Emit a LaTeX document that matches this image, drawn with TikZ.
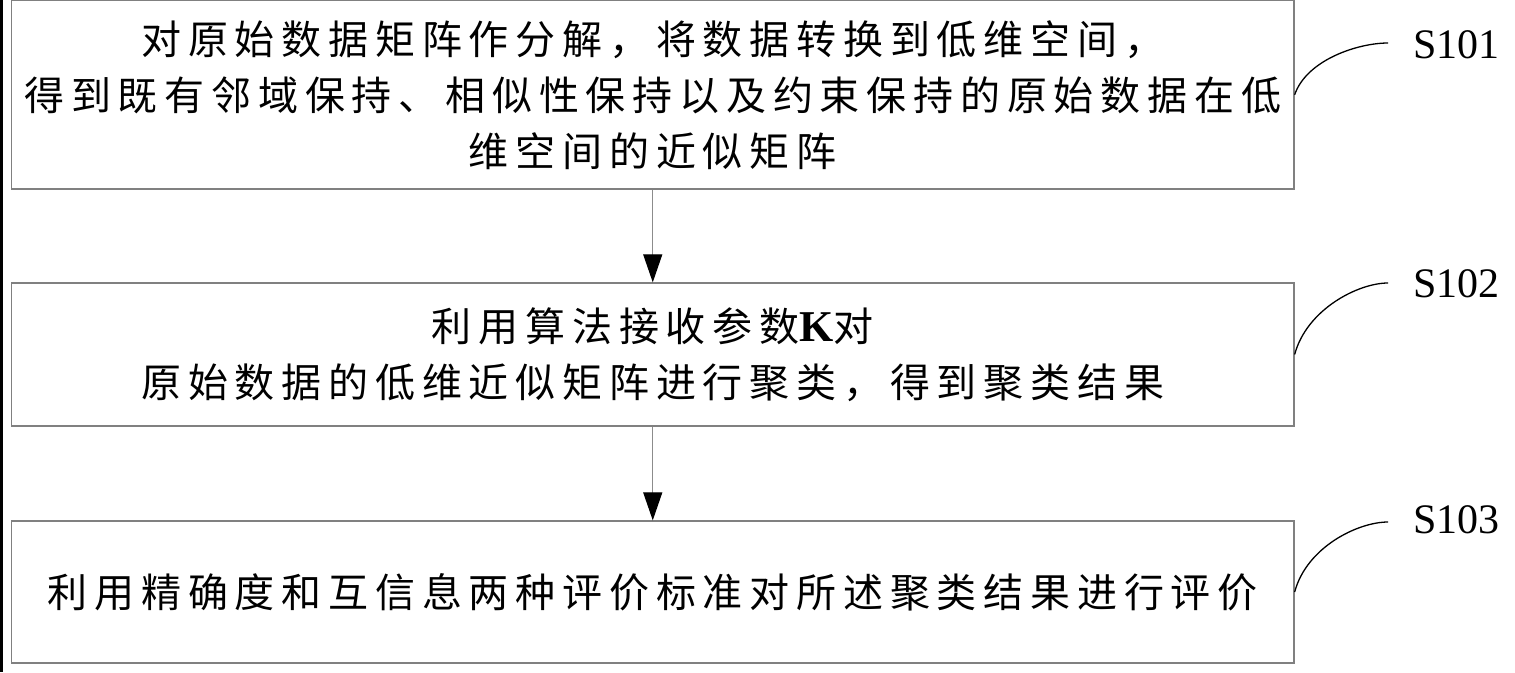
\documentclass[tikz,border=0pt]{standalone}
\usepackage{fontspec}
\usetikzlibrary{arrows.meta}
\newfontfamily\cjk[LetterSpace=17]{Noto Sans CJK SC}
\newfontfamily\lsf{Liberation Serif}
\tikzset{
  stepbox/.style={draw=black!50, line width=1.3pt, minimum width=1282.5pt, inner sep=0pt,
    align=center, font=\cjk\fontsize{40}{56}\selectfont},
  flow/.style={draw=black!45, line width=1.2pt, -{Triangle[length=28pt,width=19pt,color=black]}},
  lead/.style={draw=black, line width=1.3pt},
  steplabel/.style={anchor=west, inner sep=0pt, font=\lsf\fontsize{42}{48}\selectfont}
}
\begin{document}
\begin{tikzpicture}[x=1pt,y=-1pt]
\useasboundingbox (0,0) rectangle (1515,672);
\fill[black] (0,0) rectangle (3,672);
\node[stepbox, minimum height=188.5pt] (b1) at (652.75,94.75)
  {对原始数据矩阵作分解，将数据转换到低维空间，\\得到既有邻域保持、相似性保持以及约束保持的原始数据在低\\维空间的近似矩阵};
\node[stepbox, minimum height=143pt] (b2) at (652.75,354.5)
  {利用算法接收参数{\lsf\bfseries\fontsize{44}{56}\selectfont K}对\\原始数据的低维近似矩阵进行聚类，得到聚类结果};
\node[stepbox, minimum height=142pt] (b3) at (652.75,592)
  {利用精确度和互信息两种评价标准对所述聚类结果进行评价};
\draw[flow] (b1.south) -- (b2.north);
\draw[flow] (b2.south) -- (b3.north);
\coordinate (c1) at (1388,43);
\coordinate (c2) at (1388,283);
\coordinate (c3) at (1388,522);
\draw[lead] (b1.east) .. controls +(12,-35) and +(-30,0) .. (c1);
\draw[lead] (b2.east) .. controls +(12,-45) and +(-30,0) .. (c2);
\draw[lead] (b3.east) .. controls +(12,-45) and +(-30,0) .. (c3);
\node[steplabel] (l1) at (1413,45) {S101};
\node[steplabel] (l2) at (1413,283.5) {S102};
\node[steplabel] (l3) at (1413,520) {S103};
\end{tikzpicture}
\end{document}
